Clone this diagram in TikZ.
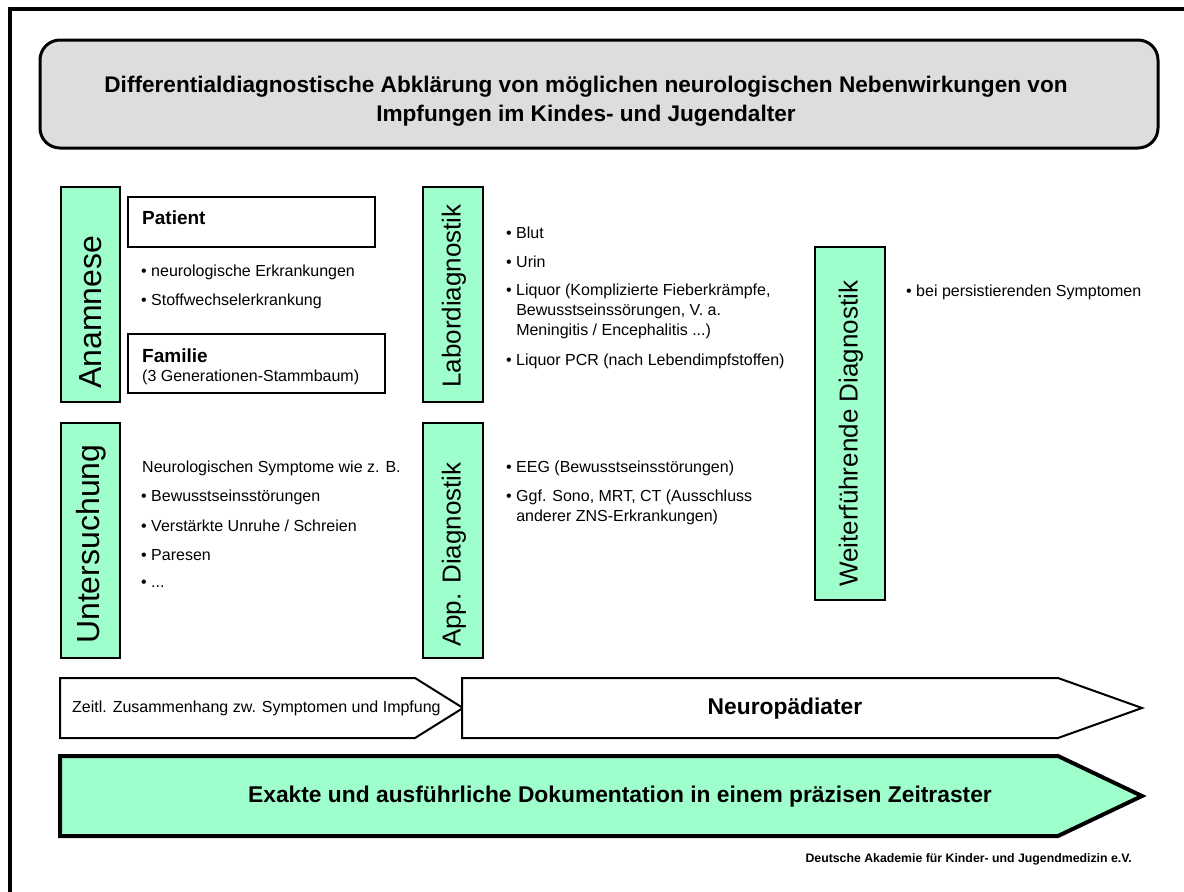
\documentclass[tikz,border=0pt]{standalone}
\usepackage{fontspec}
\setmainfont{Liberation Sans}
\definecolor{mint}{HTML}{9FFFCC}
\definecolor{titlegray}{HTML}{DDDDDD}
\begin{document}
\begin{tikzpicture}[x=1pt,y=-1pt,
  greenbox/.style={draw=black, line width=2pt, fill=mint, inner sep=0pt, outer sep=0pt, anchor=north west},
  whitebox/.style={draw=black, line width=2pt, fill=white, inner sep=0pt, outer sep=0pt, anchor=north west},
  vlabel/.style={rotate=90, anchor=west, inner sep=0pt, font=\fontsize{26}{30}\selectfont},
  biglabel/.style={vlabel, font=\fontsize{32}{36}\selectfont},
  body/.style={anchor=west, inner sep=0pt, font=\fontsize{16}{20}\selectfont},
  headtxt/.style={anchor=west, inner sep=0pt, font=\fontsize{19}{22}\selectfont\bfseries},
  arrowshape/.style={draw=black, line width=2pt, fill=white, line join=miter},
  bigarrow/.style={draw=black, line width=4pt, fill=mint, line join=miter},
  boldtxt/.style={inner sep=0pt, font=\fontsize{22.8}{26}\selectfont\bfseries}
]
\useasboundingbox (0,0) rectangle (1184,892);
\fill[white] (0,0) rectangle (1184,892);
% outer frame
\draw[line width=4pt] (10,892) -- (10,9) -- (1184,9);

% title
\node[draw=black, line width=3pt, fill=titlegray, rounded corners=20pt, minimum width=1118pt, minimum height=108pt, anchor=north west, inner sep=0pt, outer sep=0pt] (title) at (40,40) {};
\node[inner sep=0pt, align=center, font=\fontsize{22.6}{29}\selectfont\bfseries] (titletxt) at (586,101)
  {Differentialdiagnostische Abklärung von möglichen neurologischen Nebenwirkungen von\\Impfungen im Kindes- und Jugendalter};

% Anamnese column
\node[greenbox, minimum width=59pt, minimum height=215pt] (anam) at (61,187) {};
\node[biglabel] (anamtxt) at (91,389) {Anamnese};
\node[whitebox, minimum width=247pt, minimum height=50pt] (patient) at (128,197) {};
\node[headtxt] (patienttxt) at (142,218) {Patient};
\node[body] (p1) at (141,272) {• neurologische Erkrankungen};
\node[body] (p2) at (141,301) {• Stoffwechselerkrankung};
\node[whitebox, minimum width=257pt, minimum height=59pt] (familie) at (128,334) {};
\node[headtxt] (familietxt) at (142,356) {Familie};
\node[body] (f1) at (142,377) {(3 Generationen-Stammbaum)};

% Labordiagnostik column
\node[greenbox, minimum width=60pt, minimum height=215pt] (labor) at (423,187) {};
\node[vlabel] (labortxt) at (454,388) {Labordiagnostik};
\node[body] (l1) at (506,233) {• Blut};
\node[body] (l2) at (506,262) {• Urin};
\node[body] (l3) at (506,291) {• Liquor (Komplizierte Fieberkrämpfe,};
\node[body] (l3b) at (506,311) {\hphantom{• }Bewusstseinssörungen, V. a.};
\node[body] (l3c) at (506,331) {\hphantom{• }Meningitis / Encephalitis ...)};
\node[body] (l4) at (506,361) {• Liquor PCR (nach Lebendimpfstoffen)};

% Weiterfuehrende Diagnostik
\node[greenbox, minimum width=70pt, minimum height=353pt] (weiter) at (815,247) {};
\node[vlabel] (weitertxt) at (851,587) {Weiterführende Diagnostik};
\node[body] (w1) at (906,292) {• bei persistierenden Symptomen};

% Untersuchung column
\node[greenbox, minimum width=59pt, minimum height=235pt] (unters) at (61,423) {};
\node[biglabel] (unterstxt) at (91,644) {Untersuchung};
\node[body] (u0) at (142,468) {Neurologischen Symptome wie z. B.};
\node[body] (u1) at (141,497) {• Bewusstseinsstörungen};
\node[body] (u2) at (141,526) {• Verstärkte Unruhe / Schreien};
\node[body] (u3) at (141,555) {• Paresen};
\node[body] (u4) at (141,584) {• ...};

% Apparative Diagnostik
\node[greenbox, minimum width=60pt, minimum height=235pt] (app) at (423,423) {};
\node[vlabel] (apptxt) at (454,647) {App. Diagnostik};
\node[body] (a1) at (506,468) {• EEG (Bewusstseinsstörungen)};
\node[body] (a2) at (506,497) {• Ggf. Sono, MRT, CT (Ausschluss};
\node[body] (a2b) at (506,517) {\hphantom{• }anderer ZNS-Erkrankungen)};

% arrows
\draw[arrowshape] (60,678) -- (415,678) -- (463,708) -- (415,738) -- (60,738) -- cycle;
\node[body] (zeitl) at (72,708) {Zeitl. Zusammenhang zw. Symptomen und Impfung};
\draw[arrowshape] (462,678) -- (1058,678) -- (1142,708) -- (1058,738) -- (462,738) -- cycle;
\node[boldtxt] (neuro) at (785,709) {Neuropädiater};
\draw[bigarrow] (60,756) -- (1058,756) -- (1142,796) -- (1058,836) -- (60,836) -- cycle;
\node[boldtxt] (doku) at (620,797) {Exakte und ausführliche Dokumentation in einem präzisen Zeitraster};

% footer
\node[inner sep=0pt, anchor=east, font=\fontsize{12.3}{14}\selectfont\bfseries] (footer) at (1132,859) {Deutsche Akademie für Kinder- und Jugendmedizin e.V.};
\end{tikzpicture}
\end{document}
